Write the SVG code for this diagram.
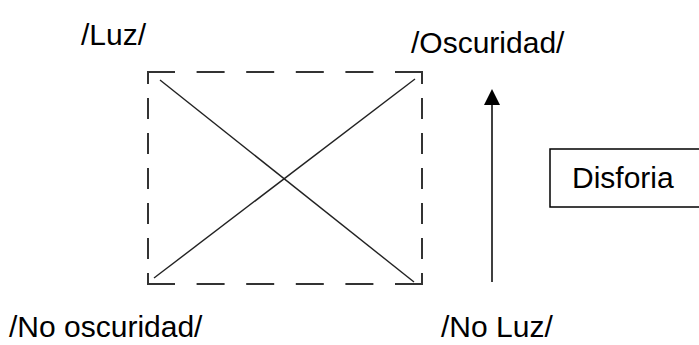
<svg xmlns="http://www.w3.org/2000/svg" width="699" height="345" viewBox="0 0 699 345">
<style>
.t{font-family:"Liberation Sans",Arial,sans-serif;font-size:30px;fill:#000}
.dh{stroke:#333;stroke-width:2;stroke-dasharray:28 21.6;fill:none}
.dv{stroke:#333;stroke-width:2;stroke-dasharray:12 14 21 14 21 14 21 14 21 14 21 14 12;fill:none}
.d{stroke:#222;stroke-width:1.4;fill:none}
</style>
<rect width="699" height="345" fill="#fff"/>
<g id="square">
<line class="dh" x1="147" y1="72" x2="423" y2="72"/>
<line class="dh" x1="147" y1="284" x2="423" y2="284"/>
<line class="dv" x1="148" y1="72" x2="148" y2="284"/>
<line class="dv" x1="422" y1="72" x2="422" y2="284"/>
<line class="d" x1="160" y1="80" x2="414" y2="282"/>
<line class="d" x1="154" y1="278" x2="415" y2="79"/>
</g>
<g id="connectors">
<line x1="492" y1="282" x2="492" y2="104" stroke="#000" stroke-width="1.5"/>
<path d="M484,105 L492,89 L500,105 Z" fill="#000"/>
</g>
<g id="luz"><text class="t" x="81" y="45">/Luz/</text></g>
<g id="oscuridad"><text class="t" x="411" y="53">/Oscuridad/</text></g>
<g id="no-oscuridad"><text class="t" x="9" y="337">/No oscuridad/</text></g>
<g id="no-luz"><text class="t" x="441" y="337">/No Luz/</text></g>
<g id="disforia">
<rect x="550" y="149" width="160" height="58" fill="#fff" stroke="#000" stroke-width="1.5"/>
<text class="t" x="572" y="188">Disforia</text>
</g>
</svg>
